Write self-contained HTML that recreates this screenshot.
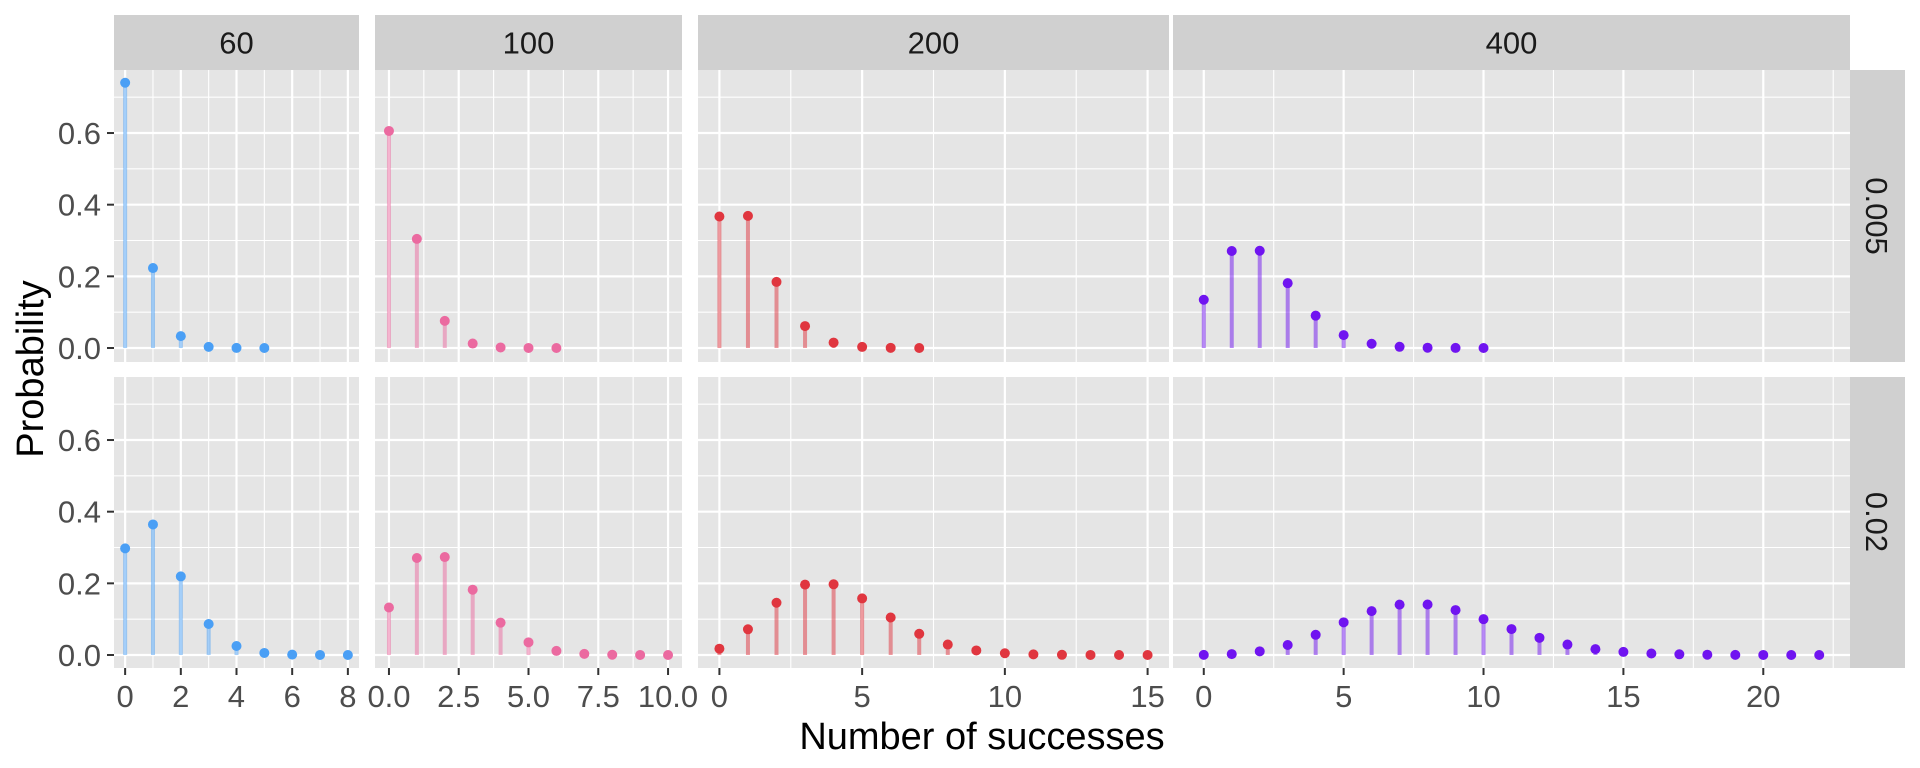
<!DOCTYPE html>
<html><head><meta charset="utf-8"><style>
html,body{margin:0;padding:0;background:#fff;}
svg{display:block;font-family:"Liberation Sans",Arial,sans-serif;}
</style></head><body>
<svg id="s" width="1920" height="768" viewBox="0 0 1920 768" xmlns="http://www.w3.org/2000/svg">
<g id="panels"></g>
<g font-size="31" fill="#1A1A1A" text-anchor="middle">
<rect x="114" y="15" width="245" height="55" fill="#D0D0D0"/>
<rect x="375" y="15" width="307" height="55" fill="#D0D0D0"/>
<rect x="698" y="15" width="471" height="55" fill="#D0D0D0"/>
<rect x="1173" y="15" width="677" height="55" fill="#D0D0D0"/>
<text x="236.5" y="53.5">60</text>
<text x="528.5" y="53.5">100</text>
<text x="933.5" y="53.5">200</text>
<text x="1511.5" y="53.5">400</text>
<rect x="1850" y="70" width="55" height="292" fill="#D0D0D0"/>
<rect x="1850" y="377" width="55" height="291" fill="#D0D0D0"/>
<text transform="translate(1866,216) rotate(90)">0.005</text>
<text transform="translate(1866,522) rotate(90)">0.02</text>
</g>
<g font-size="31" fill="#4D4D4D" text-anchor="end">
<text x="101" y="359">0.0</text><text x="101" y="287.3">0.2</text><text x="101" y="215.7">0.4</text><text x="101" y="144">0.6</text>
<text x="101" y="666">0.0</text><text x="101" y="594.3">0.2</text><text x="101" y="522.7">0.4</text><text x="101" y="451">0.6</text>
</g>
<g font-size="31" fill="#4D4D4D" text-anchor="middle">
<text x="125.1" y="707">0</text><text x="180.8" y="707">2</text><text x="236.4" y="707">4</text><text x="292.2" y="707">6</text><text x="347.9" y="707">8</text>
<text x="389" y="707">0.0</text><text x="458.7" y="707">2.5</text><text x="528.5" y="707">5.0</text><text x="598.3" y="707">7.5</text><text x="668" y="707">10.0</text>
<text x="719.4" y="707">0</text><text x="862.1" y="707">5</text><text x="1004.9" y="707">10</text><text x="1147.6" y="707">15</text>
<text x="1203.8" y="707">0</text><text x="1343.7" y="707">5</text><text x="1483.5" y="707">10</text><text x="1623.4" y="707">15</text><text x="1763.3" y="707">20</text>
</g>
<text x="982" y="749" font-size="38" fill="#000" text-anchor="middle">Number of successes</text>
<text transform="translate(43,369) rotate(-90)" font-size="38" fill="#000" text-anchor="middle">Probability</text>
</svg>
<script>
(function(){
var NS="http://www.w3.org/2000/svg",g=document.getElementById("panels");
function el(t,a){var e=document.createElementNS(NS,t);for(var k in a)e.setAttribute(k,a[k]);g.appendChild(e);return e;}
var cols=[{n:60,x0:114,x1:359,lo:-0.4,hi:8.4,maj:[0,2,4,6,8],min:[1,3,5,7],c:"#4A9FF5",m:[5,8]},
{n:100,x0:375,x1:682,lo:-0.5,hi:10.5,maj:[0,2.5,5,7.5,10],min:[1.25,3.75,6.25,8.75],c:"#EB6AA0",m:[6,10]},
{n:200,x0:698,x1:1169,lo:-0.75,hi:15.75,maj:[0,5,10,15],min:[2.5,7.5,12.5],c:"#E0363F",m:[7,15]},
{n:400,x0:1173,x1:1850,lo:-1.1,hi:23.1,maj:[0,5,10,15,20],min:[2.5,7.5,12.5,17.5,22.5],c:"#7014F0",m:[10,22]}];
var rows=[{p:0.005,y0:70,y1:362,z:348},{p:0.02,y0:377,y1:668,z:655}];
var sc=358.3;
function lc(n,k){var r=0;for(var i=1;i<=k;i++)r+=Math.log(n-k+i)-Math.log(i);return r;}
rows.forEach(function(r,ri){cols.forEach(function(c){
 var X=function(v){return c.x0+(v-c.lo)/(c.hi-c.lo)*(c.x1-c.x0);};
 var Y=function(v){return r.z-v*sc;};
 el("rect",{x:c.x0,y:r.y0,width:c.x1-c.x0,height:r.y1-r.y0,fill:"#E5E5E5"});
 [0.1,0.3,0.5,0.7].forEach(function(v){el("line",{x1:c.x0,x2:c.x1,y1:Y(v),y2:Y(v),stroke:"#fff","stroke-width":1.1});});
 c.min.forEach(function(v){el("line",{x1:X(v),x2:X(v),y1:r.y0,y2:r.y1,stroke:"#fff","stroke-width":1.1});});
 [0,0.2,0.4,0.6].forEach(function(v){el("line",{x1:c.x0,x2:c.x1,y1:Y(v),y2:Y(v),stroke:"#fff","stroke-width":2.2});});
 c.maj.forEach(function(v){el("line",{x1:X(v),x2:X(v),y1:r.y0,y2:r.y1,stroke:"#fff","stroke-width":2.2});});
 var m=c.m[ri];
 for(var k=0;k<=m;k++){var pr=Math.exp(lc(c.n,k)+k*Math.log(r.p)+(c.n-k)*Math.log(1-r.p));
  el("line",{x1:X(k),x2:X(k),y1:r.z,y2:Y(pr),stroke:c.c,"stroke-opacity":0.5,"stroke-width":4});
  el("circle",{cx:X(k),cy:Y(pr),r:5,fill:c.c});}
 if(ri==1)c.maj.forEach(function(v){el("line",{x1:X(v),x2:X(v),y1:668,y2:675,stroke:"#333","stroke-width":2});});
});
[0,0.2,0.4,0.6].forEach(function(v){el("line",{x1:107,x2:114,y1:r.z-v*sc,y2:r.z-v*sc,stroke:"#333","stroke-width":2});});
});
})();
</script>
</body></html>
